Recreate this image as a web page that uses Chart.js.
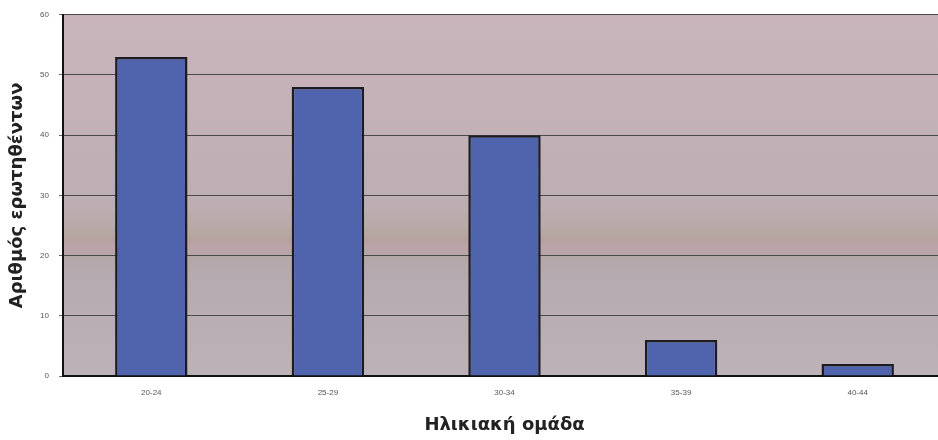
<!DOCTYPE html>
<html>
<head>
<meta charset="utf-8">
<script src="https://cdn.jsdelivr.net/npm/chart.js@4/dist/chart.umd.min.js"></script>
<style>
  html, body { margin: 0; padding: 0; background: #ffffff; overflow: hidden; }
  #wrap { width: 946px; height: 440px; }
</style>
</head>
<body>
<div id="wrap"><canvas id="c" width="946" height="440"></canvas></div>
<script>
// Respondents per age group
const ageGroups = ["20-24", "25-29", "30-34", "35-39", "40-44"];
const respondents = [53, 48, 40, 6, 2];
const yTicks = [0, 10, 20, 30, 40, 50, 60];

// Tinted plot-area background
const plotBackground = {
  id: 'plotBackground',
  beforeDraw(chart) {
    const { ctx, chartArea: a } = chart;
    const g = ctx.createLinearGradient(0, a.top, 0, a.bottom);
    g.addColorStop(0.00, '#c9b4bc');
    g.addColorStop(0.25, '#c4b2b8');
    g.addColorStop(0.52, '#bcaeb3');
    g.addColorStop(0.59, '#b8aaa8');
    g.addColorStop(0.62, '#b5a39f');
    g.addColorStop(0.645, '#bba3aa');
    g.addColorStop(0.67, '#b3a7a8');
    g.addColorStop(0.74, '#b6abb1');
    g.addColorStop(1.00, '#bdb2b7');
    ctx.save();
    ctx.fillStyle = g;
    ctx.fillRect(a.left, a.top, a.right - a.left, a.bottom - a.top);
    ctx.restore();
  }
};

new Chart(document.getElementById('c'), {
  type: 'bar',
  data: {
    labels: ageGroups,
    datasets: [{
      data: respondents,
      backgroundColor: '#4f64ad',
      borderColor: '#1c1c22',
      borderWidth: 2.5,
      barPercentage: 0.41,
      categoryPercentage: 1.0
    }]
  },
  options: {
    responsive: false,
    animation: false,
    layout: { padding: { top: 13, right: 0, left: 0, bottom: 0 } },
    plugins: { legend: { display: false }, tooltip: { enabled: false } },
    scales: {
      x: {
        grid: { display: false, drawTicks: false },
        border: { display: true, color: '#111111', width: 2 },
        ticks: {
          color: '#555555',
          font: { family: 'Liberation Sans', size: 8 },
          padding: 12
        },
        title: {
          display: true,
          text: 'Ηλικιακή ομάδα',
          color: '#222222',
          font: { family: 'DejaVu Sans', size: 18, weight: 'bold' },
          padding: { top: 8, bottom: 4 }
        },
        afterFit(scale) { scale.height = 64; }
      },
      y: {
        min: 0,
        max: 60,
        afterBuildTicks(scale) { scale.ticks = yTicks.map(v => ({ value: v })); },
        grid: { color: '#4a4a4a', lineWidth: 1, drawTicks: true, tickLength: 4, tickColor: '#666666' },
        border: { display: true, color: '#111111', width: 2 },
        ticks: {
          color: '#555555',
          font: { family: 'Liberation Sans', size: 8 },
          padding: 10
        },
        title: {
          display: true,
          text: 'Αριθμός ερωτηθέντων',
          color: '#222222',
          font: { family: 'DejaVu Sans', size: 18, weight: 'bold' },
          padding: { top: 7, bottom: 1 }
        },
        afterFit(scale) { scale.width = 63; }
      }
    }
  },
  plugins: [plotBackground]
});
</script>
</body>
</html>
